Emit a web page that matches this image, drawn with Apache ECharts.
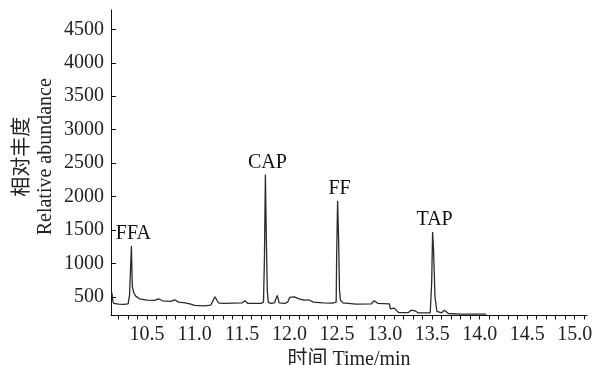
<!DOCTYPE html>
<html>
<head>
<meta charset="utf-8">
<script src="https://cdn.jsdelivr.net/npm/echarts@6/dist/echarts.min.js"></script>
<style>
html,body{margin:0;padding:0;background:#fff;}
#chart{width:593px;height:365px;}
</style>
</head>
<body>
<div id="chart"></div>
<script>
// Retention time (min) and relative abundance
var times = [
  10.13, 10.14, 10.15, 10.20, 10.25, 10.30, 10.315, 10.325, 10.335, 10.34, 10.345, 10.36, 10.38, 10.42,
  10.50, 10.58, 10.62, 10.66, 10.75, 10.79, 10.83, 10.90, 10.95, 11.00, 11.10, 11.17, 11.215, 11.25,
  11.30, 11.40, 11.50, 11.53, 11.56, 11.70, 11.725, 11.735, 11.745, 11.755, 11.765, 11.775, 11.80,
  11.84, 11.87, 11.89, 11.95, 11.98, 12.00, 12.05, 12.10, 12.15, 12.20, 12.25, 12.35, 12.45, 12.49,
  12.495, 12.505, 12.515, 12.525, 12.535, 12.56, 12.70, 12.86, 12.89, 12.93, 13.05, 13.06, 13.10,
  13.15, 13.25, 13.28, 13.32, 13.35, 13.48, 13.495, 13.505, 13.515, 13.53, 13.55, 13.60, 13.63,
  13.67, 13.80, 14.07
];
var abundance = [
  560, 430, 400, 390, 385, 395, 520, 900, 1260, 900, 650, 560, 510, 470,
  450, 445, 470, 440, 430, 455, 420, 410, 395, 370, 365, 375, 500, 410,
  400, 405, 410, 440, 400, 400, 420, 1080, 2330, 1360, 600, 420, 400,
  410, 520, 410, 400, 420, 490, 500, 470, 450, 455, 420, 410, 405, 420,
  1100, 1935, 1400, 600, 450, 410, 390, 395, 440, 400, 395, 320, 330,
  262, 265, 300, 290, 260, 260, 700, 1470, 1200, 500, 280, 260, 300,
  250, 240, 240
];
// Peak annotations
var peakNames = ['FFA', 'CAP', 'FF', 'TAP'];
var peakTimes = [10.335, 11.745, 12.505, 13.505];
var peakValues = [1260, 2330, 1935, 1470];
// Axis tick labels
var xTickLabels = [10.5, 11.0, 11.5, 12.0, 12.5, 13.0, 13.5, 14.0, 14.5, 15.0];
var yTickLabels = [500, 1000, 1500, 2000, 2500, 3000, 3500, 4000, 4500];

var xMinorTicks = [];
for (var i = 102; i <= 151; i++) xMinorTicks.push(i / 10);

var seriesData = times.map(function (t, i) { return [t, abundance[i]]; });
var markData = peakNames.map(function (n, i) {
  return { name: n, coord: [peakTimes[i], peakValues[i]] };
});

var FONT = "'Liberation Serif', 'Times New Roman', 'Noto Sans CJK SC', serif";
var chart = echarts.init(document.getElementById('chart'), null, { renderer: 'canvas' });
chart.setOption({
  animation: false,
  backgroundColor: '#ffffff',
  grid: { left: 111, right: 6, top: 10, bottom: 49.5, containLabel: false, outerBoundsMode: 'none' },
  xAxis: {
    type: 'value',
    min: 10.12,
    max: 15.13,
    name: '时间 Time/min',
    nameLocation: 'middle',
    nameGap: 34,
    nameMoveOverlap: false,
    nameTextStyle: { fontFamily: FONT, fontSize: 20, color: '#222' },
    axisLine: { show: true, onZero: false, lineStyle: { color: '#111', width: 1 } },
    axisTick: { show: true, inside: false, length: 4, customValues: xMinorTicks, lineStyle: { color: '#111' } },
    axisLabel: {
      customValues: xTickLabels, margin: 9, fontFamily: FONT, fontSize: 20, color: '#222',
      formatter: function (v) { return v.toFixed(1); }
    },
    splitLine: { show: false }
  },
  yAxis: {
    type: 'value',
    min: 220,
    max: 4790,
    name: '相对丰度\nRelative abundance',
    nameLocation: 'middle',
    nameGap: 54,
    nameMoveOverlap: false,
    nameTextStyle: { fontFamily: FONT, fontSize: 20, color: '#222', lineHeight: 23, align: 'center', padding: [0, 0, 0, 12] },
    axisLine: { show: true, onZero: false, lineStyle: { color: '#111', width: 1 } },
    axisTick: { show: true, inside: true, length: 5, customValues: yTickLabels, lineStyle: { color: '#111' } },
    axisLabel: {
      customValues: yTickLabels, margin: 7, fontFamily: FONT, fontSize: 20, color: '#222',
      formatter: function (v) { return String(v); }
    },
    splitLine: { show: false }
  },
  series: [{
    type: 'line',
    data: seriesData,
    symbol: 'none',
    smooth: false,
    lineStyle: { color: '#2a2a2a', width: 1.3 },
    markPoint: {
      symbol: 'circle',
      symbolSize: 0,
      data: markData,
      label: {
        show: true, position: 'top', distance: 2,
        formatter: '{b}', fontFamily: FONT, fontSize: 20, color: '#111', offset: [2, 0]
      }
    }
  }]
});
</script>
</body>
</html>
